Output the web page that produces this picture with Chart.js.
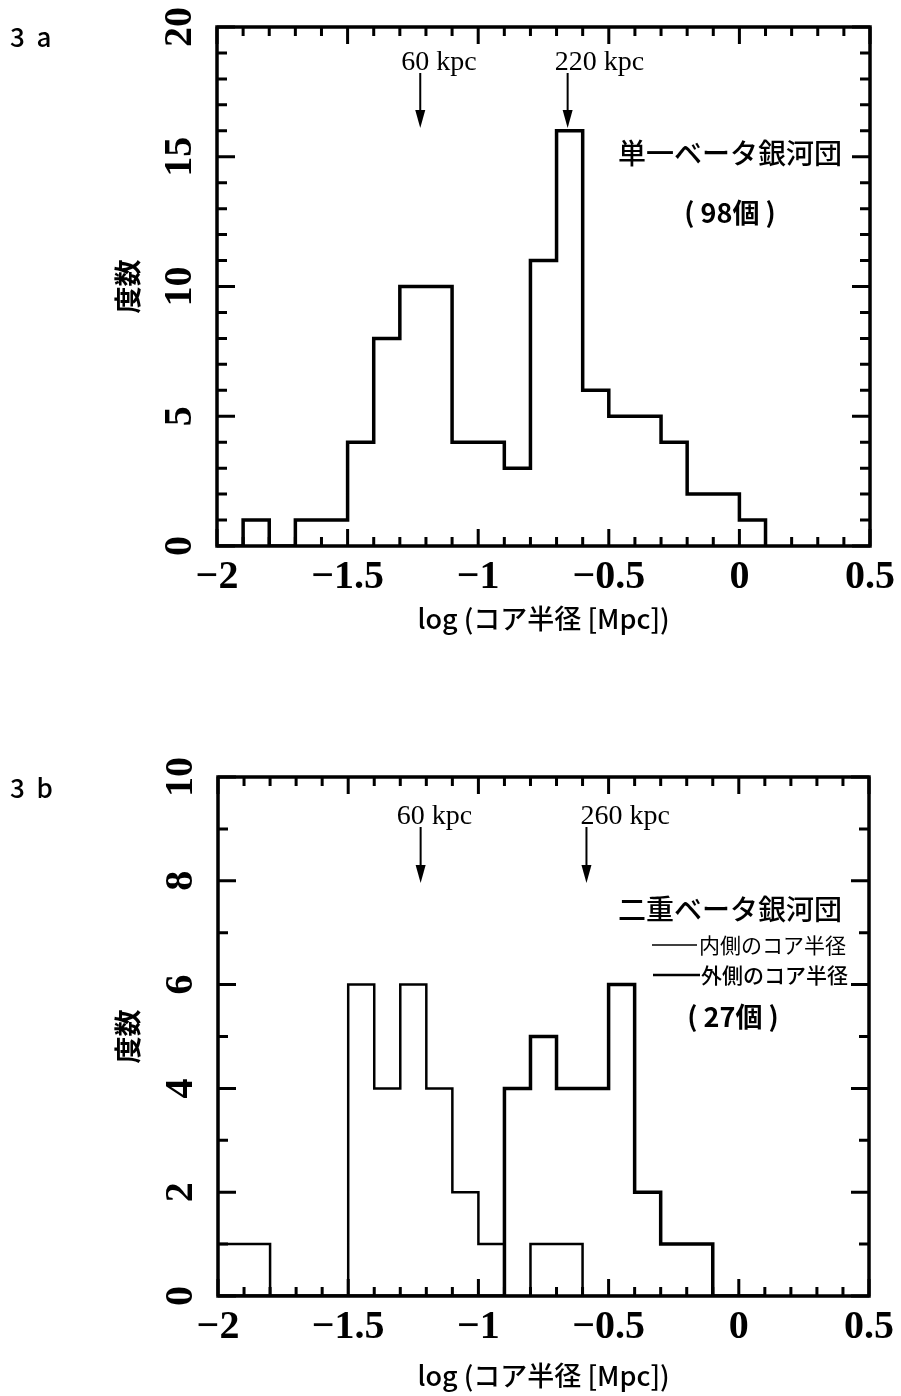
<!DOCTYPE html>
<html>
<head>
<meta charset="utf-8">
<script src="https://cdn.jsdelivr.net/npm/chart.js@4.4.0/dist/chart.umd.min.js"></script>
<style>
  html, body { margin: 0; padding: 0; background: #fff; }
  body { width: 901px; height: 1396px; position: relative; overflow: hidden; }
  .panel { position: absolute; left: 0; width: 901px; height: 646px; }
</style>
</head>
<body>
<div class="panel" style="top:0"><canvas id="chart-a" width="901" height="646"></canvas></div>
<div class="panel" style="top:750px"><canvas id="chart-b" width="901" height="646"></canvas></div>
<script>
// bin edges of log(core radius [Mpc]), bins are 0.1 wide
const binEdges = [-2.0, -1.9, -1.8, -1.7, -1.6, -1.5, -1.4, -1.3, -1.2, -1.1, -1.0,
                  -0.9, -0.8, -0.7, -0.6, -0.5, -0.4, -0.3, -0.2, -0.1, 0.0, 0.1];

// 3a: single beta clusters (98)
const countsSingle = [0, 1, 0, 1, 1, 4, 8, 10, 10, 4, 4, 3, 11, 16, 6, 5, 5, 4, 2, 2, 1];
// 3b: double beta clusters (27) - inner / outer core radius
const countsInner  = [1, 1, 0, 0, 0, 6, 4, 6, 4, 2, 1, 0, 1, 1, 0, 0, 0, 0, 0, 0, 0];
const countsOuter  = [0, 0, 0, 0, 0, 0, 0, 0, 0, 0, 0, 4, 5, 4, 4, 6, 2, 1, 1, 0, 0];

// labelled (major) ticks
const xLabelValues = [-2, -1.5, -1, -0.5, 0, 0.5];
const yLabelsA = [0, 5, 10, 15, 20];
const yLabelsB = [0, 2, 4, 6, 8, 10];

// arrows marking typical core radii
const markersA = [{ kpc: 60, text: '60 kpc', dx: -19 }, { kpc: 220, text: '220 kpc', dx: -13 }];
const markersB = [{ kpc: 60, text: '60 kpc', dx: -24 }, { kpc: 260, text: '260 kpc', dx: -6 }];

const JP = "'Noto Sans CJK JP', 'Noto Sans', sans-serif";
const SERIF = "'Liberation Serif', 'DejaVu Serif', serif";

Chart.defaults.color = '#000';
Chart.defaults.font.family = JP;

function steps(counts) {
    return binEdges.map((e, i) => ({ x: e, y: i < counts.length ? counts[i] : 0 }));
}

function inList(v, list) {
    return list.some(m => Math.abs(m - v) < 1e-6);
}

function fmt(v) {
    if (Math.abs(v) < 1e-9) return '0';
    const s = String(Math.round(Math.abs(v) * 10) / 10);
    return v < 0 ? '\u2212' + s : s;
}

// inward ticks on all four sides + frame
const frameTicks = {
    id: 'frameTicks',
    afterDatasetsDraw(chart, args, opts) {
        const { ctx, chartArea: a, scales: { x, y } } = chart;
        ctx.save();
        ctx.strokeStyle = '#000';
        ctx.lineCap = 'butt';
        ctx.lineWidth = 3;
        x.ticks.forEach(t => {
            const px = x.getPixelForValue(t.value);
            const len = inList(t.value, xLabelValues) ? 17 : 9;
            ctx.beginPath();
            ctx.moveTo(px, a.bottom); ctx.lineTo(px, a.bottom - len);
            ctx.moveTo(px, a.top); ctx.lineTo(px, a.top + len);
            ctx.stroke();
        });
        y.ticks.forEach(t => {
            const py = y.getPixelForValue(t.value);
            const len = inList(t.value, opts.yLabels) ? 18 : 10;
            ctx.beginPath();
            ctx.moveTo(a.left, py); ctx.lineTo(a.left + len, py);
            ctx.moveTo(a.right, py); ctx.lineTo(a.right - len, py);
            ctx.stroke();
        });
        ctx.lineWidth = 3.5;
        ctx.strokeRect(a.left, a.top, a.right - a.left, a.bottom - a.top);
        ctx.restore();
    }
};

// panel label, arrows and the texts inside the frame
const notes = {
    id: 'notes',
    afterDraw(chart, args, opts) {
        const { ctx, scales: { x } } = chart;
        ctx.save();
        ctx.fillStyle = '#000';
        ctx.strokeStyle = '#000';

        ctx.font = '500 26px ' + JP;
        ctx.textAlign = 'left';
        ctx.textBaseline = 'alphabetic';
        ctx.fillText(opts.panel, 10, opts.panelY);

        opts.markers.forEach(m => {
            const px = x.getPixelForValue(Math.log10(m.kpc / 1000));
            ctx.font = '28px ' + SERIF;
            ctx.textAlign = 'left';
            ctx.textBaseline = 'alphabetic';
            ctx.fillText(m.text, px + m.dx, opts.textY);
            ctx.lineWidth = 2;
            ctx.beginPath();
            ctx.moveTo(px, opts.arrowTop);
            ctx.lineTo(px, opts.arrowTip - 12);
            ctx.stroke();
            ctx.beginPath();
            ctx.moveTo(px - 5, opts.arrowTip - 18);
            ctx.lineTo(px + 5, opts.arrowTip - 18);
            ctx.lineTo(px, opts.arrowTip);
            ctx.closePath();
            ctx.fill();
        });

        ctx.textBaseline = 'middle';
        opts.texts.forEach(t => {
            ctx.font = t.font;
            ctx.textAlign = t.align || 'center';
            ctx.fillText(t.text, t.x, t.y);
        });

        (opts.keys || []).forEach(k => {
            ctx.lineWidth = k.width;
            ctx.beginPath();
            ctx.moveTo(k.x0, k.y);
            ctx.lineTo(k.x1, k.y);
            ctx.stroke();
        });
        ctx.restore();
    }
};

function makeOptions(cfg) {
    return {
        responsive: false,
        animation: false,
        devicePixelRatio: 1,
        layout: { padding: { left: 0, right: cfg.padRight, top: 27, bottom: 0 } },
        plugins: {
            legend: { display: false },
            tooltip: { enabled: false },
            frameTicks: { yLabels: cfg.yLabels },
            notes: cfg.notes
        },
        scales: {
            x: {
                type: 'linear',
                min: -2,
                max: 0.5,
                grid: { display: false, drawTicks: false },
                border: { display: false },
                ticks: {
                    stepSize: 0.1,
                    autoSkip: false,
                    minRotation: 0,
                    maxRotation: 0,
                    padding: 8,
                    font: { family: SERIF, size: 40, weight: 'bold' },
                    callback: v => inList(v, xLabelValues) ? fmt(v) : ''
                },
                title: {
                    display: true,
                    text: 'log (コア半径 [Mpc])',
                    font: { family: JP, size: 27, weight: '500' },
                    padding: { top: 0, bottom: cfg.titlePad }
                },
                afterFit: s => { s.height = 100; s.paddingLeft = 0; s.paddingRight = 0; }
            },
            y: {
                type: 'linear',
                min: 0,
                max: cfg.yMax,
                grid: { display: false, drawTicks: false },
                border: { display: false },
                ticks: {
                    stepSize: 1,
                    autoSkip: false,
                    minRotation: 90,
                    maxRotation: 90,
                    crossAlign: 'center',
                    padding: 16,
                    font: { family: SERIF, size: 40, weight: 'bold' },
                    callback: v => inList(v, cfg.yLabels) ? fmt(v) : ''
                },
                title: {
                    display: true,
                    text: '度数',
                    font: { family: JP, size: 27, weight: 'bold' },
                    padding: { top: 112, bottom: 0 }
                },
                afterFit: s => { s.width = cfg.yWidth; s.paddingTop = 0; s.paddingBottom = 0; }
            }
        }
    };
}

function histLine(label, counts, width) {
    return {
        label: label,
        data: steps(counts),
        stepped: 'before',
        borderColor: '#000',
        borderWidth: width,
        borderJoinStyle: 'miter',
        pointRadius: 0,
        fill: false,
        tension: 0
    };
}

// 3a
new Chart(document.getElementById('chart-a').getContext('2d'), {
    type: 'line',
    data: { datasets: [histLine('単一ベータ銀河団', countsSingle, 3.5)] },
    options: makeOptions({
        yMax: 20, yLabels: yLabelsA, padRight: 31, yWidth: 217, titlePad: 11,
        notes: {
            panel: '3  a', panelY: 47,
            markers: markersA, textY: 70, arrowTop: 73, arrowTip: 128,
            texts: [
                { text: '単一ベータ銀河団', x: 730, y: 153, font: '500 28px ' + JP },
                { text: '( 98個 )', x: 730, y: 213, font: 'bold 27px ' + JP }
            ]
        }
    }),
    plugins: [frameTicks, notes]
});

// 3b
new Chart(document.getElementById('chart-b').getContext('2d'), {
    type: 'line',
    data: {
        datasets: [
            histLine('内側のコア半径', countsInner, 2.5),
            histLine('外側のコア半径', countsOuter, 3.5)
        ]
    },
    options: makeOptions({
        yMax: 10, yLabels: yLabelsB, padRight: 32, yWidth: 218, titlePad: 4,
        notes: {
            panel: '3  b', panelY: 48,
            markers: markersB, textY: 74, arrowTop: 77, arrowTip: 133,
            texts: [
                { text: '二重ベータ銀河団', x: 730, y: 159, font: '500 28px ' + JP },
                { text: '内側のコア半径', x: 699, y: 195, align: 'left', font: '21px ' + JP },
                { text: '外側のコア半径', x: 701, y: 225, align: 'left', font: '500 21px ' + JP },
                { text: '( 27個 )', x: 733, y: 267, font: 'bold 27px ' + JP }
            ],
            keys: [
                { x0: 652, x1: 697, y: 195, width: 1.5 },
                { x0: 653, x1: 700, y: 225, width: 2.5 }
            ]
        }
    }),
    plugins: [frameTicks, notes]
});
</script>
</body>
</html>
